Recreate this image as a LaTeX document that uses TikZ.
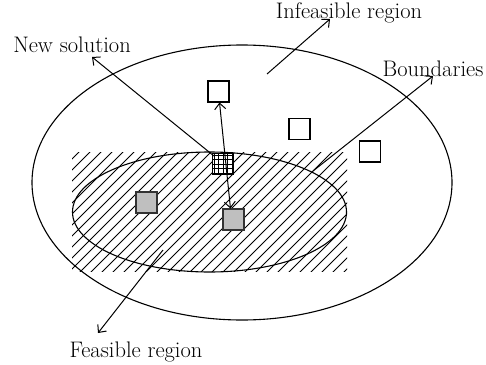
\documentclass[tikz,border=0pt]{standalone}
\usepackage{fontspec}
\usetikzlibrary{arrows.meta,shapes.geometric}
\tikzset{
  sq/.style={draw, line width=1.1pt, minimum size=21pt, inner sep=0pt, fill=white},
  graysq/.style={sq, fill=black!25, draw=black!80},
  gridsq/.style={sq, path picture={\draw[line width=0.5pt] ([xshift=-0.2pt,yshift=0.2pt]path picture bounding box.south west) grid[step=4.4pt] (path picture bounding box.north east);}},
  lbl/.style={inner sep=0pt, font=\fontsize{22.5}{26}\selectfont},
  arr/.style={line width=1pt, -{Straight Barb[length=6pt,width=11pt]}},
  dbl/.style={line width=1pt, {Straight Barb[length=6pt,width=11pt]}-{Straight Barb[length=6pt,width=11pt]}},
}
\begin{document}
\begin{tikzpicture}[x=1pt,y=-1pt]
\useasboundingbox (0,0) rectangle (486,364);
% hatching
\begin{scope}
\clip (72,152) rectangle (347,271);
\foreach \i in {0,...,40} {
  \draw[line width=1pt] ({-60+11*\i},280) -- ({-60+11*\i+140},140);
}
\end{scope}
% ellipses
\node (inner) [draw, ellipse, line width=1.1pt, minimum width=274pt, minimum height=120pt, inner sep=0pt] at (209.5,212) {};
\node (outer) [draw, ellipse, line width=1.1pt, minimum width=420pt, minimum height=275pt, inner sep=0pt] at (242,182.5) {};
% squares
\node (A) [sq] at (218.5,91.5) {};
\node (B) [sq] at (299.5,129) {};
\node (C) [sq] at (370,151.5) {};
\node (g1) [graysq] at (146.5,202.5) {};
\node (g2) [graysq] at (233.5,219.5) {};
\node (ns) [gridsq] at (223,164) {};
% labels
\node (tNew) [lbl] at (72,45) {New solution};
\node (tInf) [lbl] at (349,13) {Infeasible region};
\node (tBnd) [lbl] at (433,69) {Boundaries};
\node (tFea) [lbl] at (136,352) {Feasible region};
% arrow end points
\coordinate (pNew) at (214,156);
\coordinate (hNew) at (92,57);
\coordinate (pInf) at (267,74);
\coordinate (hInf) at (330,19);
\coordinate (pBnd) at (313,171);
\coordinate (hBnd) at (433,76);
\coordinate (pFea) at (163,250);
\coordinate (hFea) at (98,333);
\coordinate (dTop) at (219.5,102.5);
\coordinate (dBot) at (230.5,208.5);
% arrows
\draw[arr] (pNew) -- (hNew);
\draw[arr] (pInf) -- (hInf);
\draw[arr] (pBnd) -- (hBnd);
\draw[arr] (pFea) -- (hFea);
\draw[dbl] (dTop) -- (dBot);
\end{tikzpicture}
\end{document}
